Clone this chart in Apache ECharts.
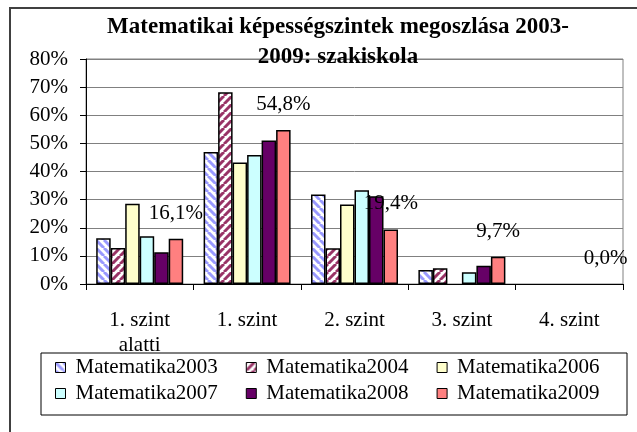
<!DOCTYPE html>
<html>
<head>
<meta charset="utf-8">
<script src="https://cdn.jsdelivr.net/npm/echarts@6/dist/echarts.min.js"></script>
<style>
  html, body { margin: 0; padding: 0; background: #fff; }
  #main { width: 637px; height: 432px; }
</style>
</head>
<body>
<div id="main"></div>
<script>
var categories = ['1. szint\nalatti', '1. szint', '2. szint', '3. szint', '4. szint'];
var seriesNames = ['Matematika2003', 'Matematika2004', 'Matematika2006', 'Matematika2007', 'Matematika2008', 'Matematika2009'];
var mat2003 = [16.3, 46.9, 31.8, 5.0, 0];
var mat2004 = [12.8, 68.2, 12.7, 5.6, 0];
var mat2006 = [28.5, 43.2, 28.3, 0, 0];
var mat2007 = [17.0, 45.9, 33.3, 4.2, 0];
var mat2008 = [11.3, 51.0, 31.2, 6.5, 0];
var mat2009 = [16.1, 54.8, 19.4, 9.7, 0];
var yTicks = [0, 10, 20, 30, 40, 50, 60, 70, 80];

var FONT = '"Liberation Serif", "Times New Roman", serif';

// striped fill, dir 1 = "\" , dir -1 = "/"
function stripes(color, dir) {
    var n = 8;
    var c = document.createElement('canvas');
    c.width = n; c.height = n;
    var ctx = c.getContext('2d');
    ctx.fillStyle = '#fff';
    ctx.fillRect(0, 0, n, n);
    ctx.strokeStyle = color;
    ctx.lineWidth = 3;
    [-n, 0, n].forEach(function (x0) {
        ctx.beginPath();
        if (dir > 0) { ctx.moveTo(x0, 0); ctx.lineTo(x0 + n, n); }
        else { ctx.moveTo(x0, n); ctx.lineTo(x0 + n, 0); }
        ctx.stroke();
    });
    return { image: c, repeat: 'repeat' };
}

var fills = [
    stripes('#9999ff', 1),
    stripes('#993366', -1),
    '#ffffcc',
    '#ccffff',
    '#660066',
    '#ff8080'
];
var values = [mat2003, mat2004, mat2006, mat2007, mat2008, mat2009];

var series = seriesNames.map(function (name, i) {
    var s = {
        name: name,
        type: 'bar',
        // empty bars get no outline
        data: values[i].map(function (v) {
            return v === 0 ? { value: v, itemStyle: { borderWidth: 0 } } : v;
        }),
        barGap: '0%',
        barCategoryGap: '19%',
        itemStyle: { color: fills[i], borderColor: '#000', borderWidth: 1.5 },
        emphasis: { disabled: true }
    };
    if (i === 5) {
        s.label = {
            show: true,
            position: 'top',
            distance: 15,
            fontFamily: FONT,
            fontSize: 21,
            color: '#000',
            formatter: function (p) { return p.value.toFixed(1).replace('.', ',') + '%'; }
        };
    }
    return s;
});

var legendBase = {
    orient: 'horizontal',
    left: 55,
    padding: 0,
    itemWidth: 10,
    itemHeight: 10,
    itemGap: 28,
    icon: 'rect',
    itemStyle: { borderColor: '#000', borderWidth: 1 },
    textStyle: { fontFamily: FONT, fontSize: 21, color: '#000', padding: [0, 0, 0, 5] }
};

var chart = echarts.init(document.getElementById('main'), null, { renderer: 'canvas' });
chart.setOption({
    animation: false,
    backgroundColor: '#fff',
    title: {
        text: 'Matematikai képességszintek megoszlása 2003-\n2009: szakiskola',
        left: 338,
        top: 12,
        textAlign: 'center',
        padding: 0,
        textStyle: { fontFamily: FONT, fontSize: 23, fontWeight: 'bold', color: '#000', lineHeight: 30 }
    },
    legend: [
        Object.assign({}, legendBase, { top: 357, data: seriesNames.slice(0, 3) }),
        Object.assign({}, legendBase, { top: 383, data: seriesNames.slice(3, 6) })
    ],
    grid: {
        left: 86, right: 14, top: 59, bottom: 148,
        show: true, borderColor: '#808080', borderWidth: 1
    },
    xAxis: {
        type: 'category',
        data: categories,
        axisLine: { lineStyle: { color: '#000', width: 1 } },
        axisTick: { show: true, interval: 0, length: 6, lineStyle: { color: '#000' } },
        axisLabel: { interval: 0, margin: 24, fontFamily: FONT, fontSize: 21, color: '#000', lineHeight: 25 },
        splitLine: { show: false }
    },
    yAxis: {
        type: 'value',
        min: yTicks[0],
        max: yTicks[yTicks.length - 1],
        interval: 10,
        axisLine: { show: true, lineStyle: { color: '#000', width: 1 } },
        axisTick: { show: true, length: 6, lineStyle: { color: '#000' } },
        axisLabel: { margin: 18, fontFamily: FONT, fontSize: 21, color: '#000', formatter: '{value}%' },
        splitLine: { lineStyle: { color: '#808080', width: 1 } }
    },
    graphic: [
        { type: 'rect', shape: { x: 41, y: 353, width: 586, height: 62 },
          style: { fill: 'none', stroke: '#000', lineWidth: 1 }, z: 1 },
        { type: 'rect', shape: { x: 10, y: 8, width: 700, height: 500 },
          style: { fill: 'none', stroke: '#404040', lineWidth: 2 }, z: 1 }
    ],
    series: series
});
</script>
</body>
</html>
